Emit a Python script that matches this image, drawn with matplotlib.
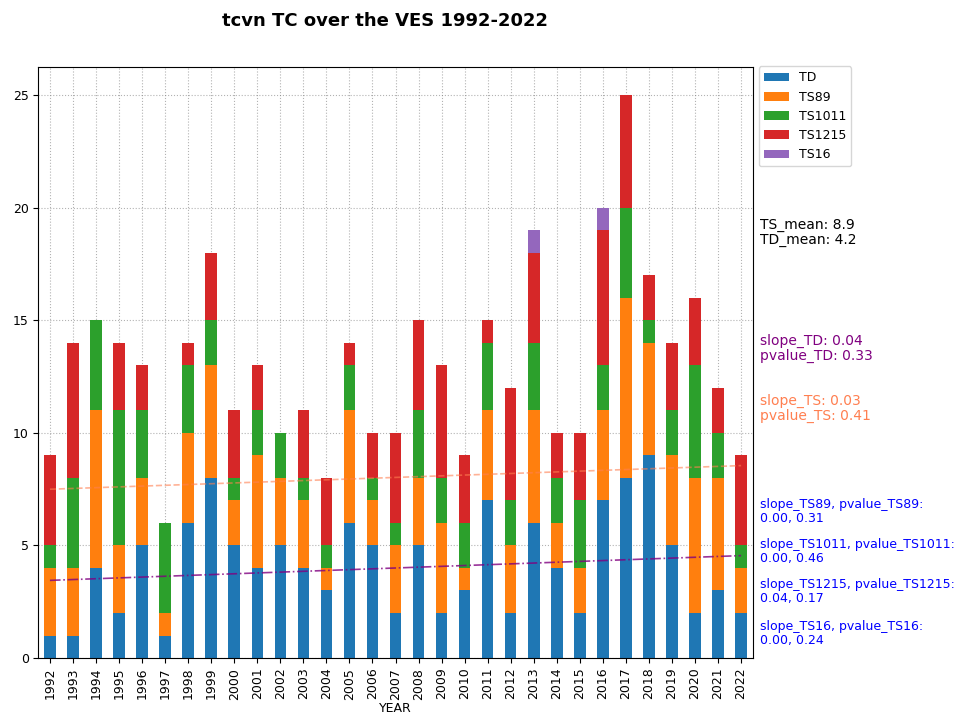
import matplotlib
matplotlib.use("Agg")
import matplotlib.pyplot as plt
import numpy as np
import pandas as pd

years = list(range(1992, 2023))

# counts per category
TD     = [1, 1, 4, 2, 5, 1, 6, 8, 5, 4, 5, 4, 3, 6, 5, 2, 5, 2, 3, 7, 2, 6, 4, 2, 7, 8, 9, 5, 2, 3, 2]
TS89   = [3, 3, 7, 3, 3, 1, 4, 5, 2, 5, 3, 3, 1, 5, 2, 3, 3, 4, 1, 4, 3, 5, 2, 2, 4, 8, 5, 4, 6, 5, 2]
TS1011 = [1, 4, 4, 6, 3, 4, 3, 2, 1, 2, 2, 1, 1, 2, 1, 1, 3, 2, 2, 3, 2, 3, 2, 3, 2, 4, 1, 2, 5, 2, 1]
TS1215 = [4, 6, 0, 3, 2, 0, 1, 3, 3, 2, 0, 3, 3, 1, 2, 4, 4, 5, 3, 1, 5, 4, 2, 3, 6, 5, 2, 3, 3, 2, 4]
TS16   = [0, 0, 0, 0, 0, 0, 0, 0, 0, 0, 0, 0, 0, 0, 0, 0, 0, 0, 0, 0, 0, 1, 0, 0, 1, 0, 0, 0, 0, 0, 0]

# trend line end points (1992, 2022) as drawn in the reference
trend_TS = [7.5, 8.55]
trend_TD = [3.45, 4.55]

df = pd.DataFrame({"TD": TD, "TS89": TS89, "TS1011": TS1011,
                   "TS1215": TS1215, "TS16": TS16}, index=years)
df.index.name = "YEAR"

fig = plt.figure(figsize=(9.6, 7.16), dpi=100)
ax = fig.add_axes([0.040, 0.081, 0.744, 0.825])

df.plot(kind="bar", stacked=True, ax=ax, width=0.5,
        color=["#1f77b4", "#ff7f0e", "#2ca02c", "#d62728", "#9467bd"])

x_end = [0, len(years) - 1]
ax.plot(x_end, trend_TS, "--", color="coral", alpha=0.6, lw=1.2)
ax.plot(x_end, trend_TD, "-.", color="purple", alpha=0.8, lw=1.2)

ax.grid(True, linestyle=":", color="gray", alpha=0.6)
ax.set_axisbelow(True)
ax.set_xlabel("YEAR", fontsize=9, labelpad=2)
ax.tick_params(axis="x", labelsize=9, rotation=90)
ax.tick_params(axis="y", labelsize=9)
ax.set_title("tcvn TC over the VES 1992-2022", fontsize=13,
             fontweight="bold", pad=30, x=0.485)

ax.legend(loc="upper left", bbox_to_anchor=(1.0, 1.012), fontsize=9)

tx = 760 / 960
def fy(py):
    return 1 - py / 716

fig.text(tx, fy(218), "TS_mean: 8.9\nTD_mean: 4.2", fontsize=10,
         va="top", color="black", linespacing=1.1)
fig.text(tx, fy(334), "slope_TD: 0.04\npvalue_TD: 0.33", fontsize=10,
         va="top", color="purple", linespacing=1.1)
fig.text(tx, fy(394), "slope_TS: 0.03\npvalue_TS: 0.41", fontsize=10,
         va="top", color="coral", linespacing=1.1)

blue_txt = [
    ("slope_TS89, pvalue_TS89:\n0.00, 0.31", 498),
    ("slope_TS1011, pvalue_TS1011:\n0.00, 0.46", 538),
    ("slope_TS1215, pvalue_TS1215:\n0.04, 0.17", 578),
    ("slope_TS16, pvalue_TS16:\n0.00, 0.24", 620),
]
for s, py in blue_txt:
    fig.text(tx, fy(py), s, fontsize=9, va="top", color="blue", linespacing=1.1)

plt.savefig("out.png", dpi=100)
plt.close()
